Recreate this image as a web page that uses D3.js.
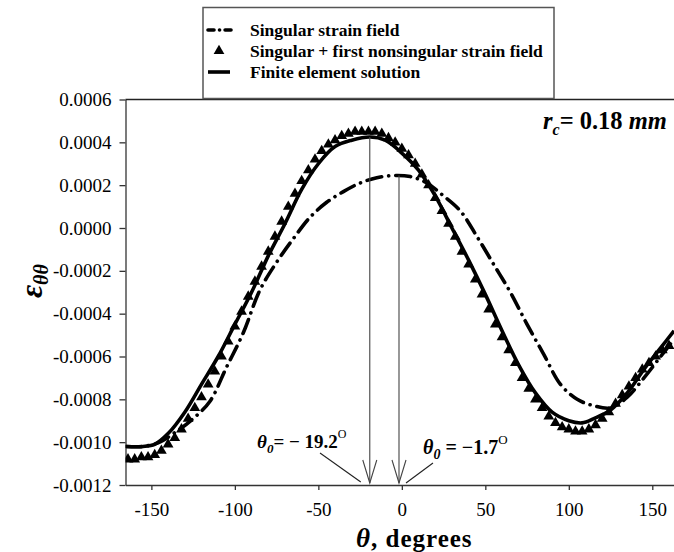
<!DOCTYPE html>
<html>
<head>
<meta charset="utf-8">
<script src="https://cdnjs.cloudflare.com/ajax/libs/d3/7.8.5/d3.min.js"></script>
<style>
  body { margin: 0; background: #fff; }
  svg { display: block; font-family: "Liberation Serif", "Times New Roman", serif; }
</style>
</head>
<body>
<svg id="chart" width="674" height="552"></svg>
<script>
const xTicks = [-150, -100, -50, 0, 50, 100, 150];
const yTicks = [0.0006, 0.0004, 0.0002, 0, -0.0002, -0.0004, -0.0006, -0.0008, -0.0010, -0.0012];

const seriesNames = [
  'Singular strain field',
  'Singular + first nonsingular strain field',
  'Finite element solution'
];

// singular strain field (dash-dot)
const singularTheta = [-165, -155, -145, -135, -125, -115, -105, -95, -85, -75, -65, -55, -45, -35, -25, -15, -5,
  5, 15, 25, 35, 45, 55, 65, 75, 85, 95, 105, 115, 125, 135, 145, 155, 163];
const singularStrain = [-0.00102, -0.00102, -0.00100, -0.00095, -0.00089, -0.00081, -0.00065, -0.00049, -0.00029,
  -0.00016, -0.00005, 0.00005, 0.00012, 0.00017, 0.00021, 0.000235, 0.000245, 0.00024, 0.00021, 0.00015, 0.00008,
  -0.00004, -0.00017, -0.00030, -0.00045, -0.00059, -0.00073, -0.00080, -0.00083, -0.00084, -0.00079, -0.00070,
  -0.00060, -0.00052];

// finite element solution (solid)
const feTheta = [-165, -155, -148, -140, -130, -120, -110, -100, -90, -80, -70, -60, -50, -40, -30, -19, -10, 0,
  10, 20, 30, 40, 50, 60, 70, 80, 90, 100, 108, 115, 125, 135, 145, 155, 163];
const feStrain = [-0.00102, -0.00102, -0.00101, -0.00096, -0.00086, -0.00073, -0.00060, -0.00045, -0.00030,
  -0.00013, 0.00002, 0.00018, 0.00030, 0.00038, 0.00041, 0.000425, 0.00041, 0.00035, 0.00027, 0.00015, 0.00000,
  -0.00015, -0.00031, -0.00048, -0.00064, -0.00077, -0.00086, -0.00090, -0.00091, -0.00089, -0.00085, -0.00077,
  -0.00066, -0.00056, -0.00048];

// singular + first nonsingular (triangles)
const nonsingTheta = [-164, -160, -156, -152, -148, -144, -140, -136, -132, -128, -124, -120, -116, -112, -108,
  -104, -100, -96, -92, -88, -84, -80, -76, -72, -68, -64, -60, -56, -52, -48, -44, -40, -36, -32, -28, -24, -20,
  -16, -12, -8, -4, 0, 4, 8, 12, 16, 20, 24, 28, 32, 36, 40, 44, 48, 52, 56, 60, 64, 68, 72, 76, 80, 84, 88, 92,
  96, 100, 104, 108, 112, 116, 120, 124, 128, 132, 136, 140, 144, 148, 152, 156, 160];
const nonsingStrain = [-0.00108, -0.00108, -0.00107, -0.00107, -0.00106, -0.00104, -0.00101, -0.00098, -0.00094,
  -0.00089, -0.00084, -0.00079, -0.00073, -0.00067, -0.00060, -0.00053, -0.00046, -0.00039, -0.00032, -0.00025,
  -0.00018, -0.00011, -0.00004, 0.00003, 0.00010, 0.00016, 0.00022, 0.00027, 0.00032, 0.00036, 0.00039, 0.00041,
  0.00043, 0.00044, 0.00045, 0.00045, 0.00045, 0.00045, 0.00044, 0.00042, 0.00040, 0.00037, 0.00034, 0.00030,
  0.00025, 0.00020, 0.00014, 0.00008, 0.00002, -0.00004, -0.00011, -0.00017, -0.00024, -0.00031, -0.00038,
  -0.00045, -0.00051, -0.00057, -0.00063, -0.00070, -0.00075, -0.00080, -0.00084, -0.00088, -0.00091, -0.00093,
  -0.00094, -0.00095, -0.00095, -0.00094, -0.00092, -0.00089, -0.00086, -0.00082, -0.00078, -0.00074, -0.00070,
  -0.00066, -0.00063, -0.00060, -0.00057, -0.00055];

// angle annotations
const peakAngles = [-19.2, -1.7];

const svg = d3.select('#chart');
const plotLeft = 125.5, plotRight = 674, plotTop = 99.5, plotBottom = 485;

const x = d3.scaleLinear().domain([-165.5, 163]).range([plotLeft, plotRight]);
const y = d3.scaleLinear().domain([-0.0012, 0.0006]).range([plotBottom, plotTop]);

const fmt = d3.formatLocale({ decimal: '.', thousands: ',', grouping: [3], currency: ['', ''], minus: '-' }).format('.4f');

svg.append('defs').append('clipPath').attr('id', 'plot-clip')
  .append('rect').attr('x', plotLeft).attr('y', plotTop - 20)
  .attr('width', plotRight - plotLeft).attr('height', plotBottom - plotTop + 20);

// axes
const yAxis = svg.append('g')
  .attr('transform', `translate(${plotLeft},0)`)
  .call(d3.axisLeft(y).tickValues(yTicks).tickFormat(fmt).tickSize(6).tickSizeOuter(0).tickPadding(8));
const xAxis = svg.append('g')
  .attr('transform', `translate(0,${plotBottom})`)
  .call(d3.axisBottom(x).tickValues(xTicks).tickSize(5).tickSizeOuter(0).tickPadding(13));
[xAxis, yAxis].forEach(a => {
  a.attr('font-family', '"Liberation Serif", serif');
  a.selectAll('text').attr('font-size', 19).attr('fill', '#000');
  a.selectAll('path, line').attr('stroke', '#333').attr('stroke-width', 1.3);
});
xAxis.selectAll('text').text(d => d < 0 ? '-' + Math.abs(d) : d);

// top frame line
svg.append('line')
  .attr('x1', plotLeft).attr('x2', plotRight).attr('y1', plotTop).attr('y2', plotTop)
  .attr('stroke', '#222').attr('stroke-width', 1.3);

const plot = svg.append('g').attr('clip-path', 'url(#plot-clip)');

const line = d3.line()
  .x(d => x(d[0]))
  .y(d => y(d[1]))
  .curve(d3.curveCatmullRom.alpha(0.5));

const singularData = d3.zip(singularTheta, singularStrain);
const feData = d3.zip(feTheta, feStrain);
const nonsingData = d3.zip(nonsingTheta, nonsingStrain);

// annotation vertical lines with open arrowheads
const peakValues = [d3.max(feStrain), d3.max(singularStrain)];
peakAngles.forEach((a, i) => {
  const px = x(a);
  const g = svg.append('g').attr('stroke', '#444').attr('stroke-width', 1.1).attr('fill', 'none');
  g.append('line').attr('x1', px).attr('x2', px).attr('y1', y(peakValues[i])).attr('y2', plotBottom - 2);
  g.append('path').attr('d', `M${px - 7},${plotBottom - 25}L${px},${plotBottom - 2}L${px + 7},${plotBottom - 25}`);
});

plot.append('path')
  .datum(feData)
  .attr('d', line)
  .attr('fill', 'none')
  .attr('stroke', '#000')
  .attr('stroke-width', 3.6);

plot.selectAll('.tri')
  .data(nonsingData)
  .enter()
  .append('path')
  .attr('class', 'tri')
  .attr('transform', d => `translate(${x(d[0])},${y(d[1])})`)
  .attr('d', d3.symbol(d3.symbolTriangle, 50))
  .attr('fill', '#000');

plot.append('path')
  .datum(singularData)
  .attr('d', line)
  .attr('fill', 'none')
  .attr('stroke', '#000')
  .attr('stroke-width', 3.6)
  .attr('stroke-linecap', 'round')
  .attr('stroke-dasharray', '15,7,0.1,7');

// leader lines for the angle labels
svg.append('line')
  .attr('x1', 320).attr('y1', 453).attr('x2', x(peakAngles[0]) - 9).attr('y2', plotBottom - 3)
  .attr('stroke', '#222').attr('stroke-width', 1.1);
svg.append('line')
  .attr('x1', 433).attr('y1', 463).attr('x2', x(peakAngles[1]) + 7).attr('y2', plotBottom - 2)
  .attr('stroke', '#222').attr('stroke-width', 1.1);

const lab1 = svg.append('text').attr('x', 257).attr('y', 448).attr('font-size', 19).attr('font-weight', 'bold');
lab1.append('tspan').attr('font-style', 'italic').text('θ');
lab1.append('tspan').attr('font-style', 'italic').attr('font-size', 13).attr('dy', 5).text('0');
lab1.append('tspan').attr('dy', -5).text('= − 19.2');
lab1.append('tspan').attr('font-weight', 'normal').attr('font-size', 12).attr('dy', -10).text('O');

const lab2 = svg.append('text').attr('x', 423).attr('y', 454).attr('font-size', 20).attr('font-weight', 'bold');
lab2.append('tspan').attr('font-style', 'italic').text('θ');
lab2.append('tspan').attr('font-style', 'italic').attr('font-size', 14).attr('dy', 5).text('0');
lab2.append('tspan').attr('dy', -5).text(' = −1.7');
lab2.append('tspan').attr('font-weight', 'normal').attr('font-size', 13).attr('dy', -10).text('O');

// r_c label
const rc = svg.append('text').attr('x', 543).attr('y', 129).attr('font-size', 24.5).attr('font-weight', 'bold');
rc.append('tspan').attr('font-style', 'italic').text('r');
rc.append('tspan').attr('font-style', 'italic').attr('font-size', 16).attr('dy', 6).text('c');
rc.append('tspan').attr('dy', -6).text('= 0.18 ');
rc.append('tspan').attr('font-style', 'italic').text('mm');

// axis titles
const xt = svg.append('text').attr('x', 356).attr('y', 547).attr('font-weight', 'bold').attr('letter-spacing', 1);
xt.append('tspan').attr('font-style', 'italic').attr('font-size', 27).text('θ');
xt.append('tspan').attr('font-size', 25).text(', degrees');

const yt = svg.append('text')
  .attr('transform', 'translate(42,298) rotate(-90)')
  .attr('font-weight', 'bold').attr('font-style', 'italic');
yt.append('tspan').attr('font-size', 32).text('ε');
yt.append('tspan').attr('font-size', 20).attr('dy', 6).text('θθ');

// legend
const legend = svg.append('g');
legend.append('rect')
  .attr('x', 203).attr('y', 7.5).attr('width', 351).attr('height', 91)
  .attr('fill', '#fff').attr('stroke', '#555').attr('stroke-width', 1.5);

const rowY = [30, 51, 72];
const leg = legend.selectAll('g.item')
  .data(seriesNames)
  .enter()
  .append('g')
  .attr('class', 'item')
  .attr('transform', (d, i) => `translate(0,${rowY[i]})`);

leg.append('text')
  .attr('x', 250).attr('y', 6)
  .attr('font-size', 17.5).attr('font-weight', 'bold')
  .text(d => d);

leg.filter((d, i) => i === 0).append('line')
  .attr('x1', 208).attr('x2', 231).attr('y1', 0).attr('y2', 0)
  .attr('stroke', '#000').attr('stroke-width', 3.6).attr('stroke-linecap', 'round')
  .attr('stroke-dasharray', '6,5.5,0.1,5.5');
leg.filter((d, i) => i === 1).append('path')
  .attr('transform', 'translate(219,0)')
  .attr('d', d3.symbol(d3.symbolTriangle, 50))
  .attr('fill', '#000');
leg.filter((d, i) => i === 2).append('line')
  .attr('x1', 208).attr('x2', 230).attr('y1', 0).attr('y2', 0)
  .attr('stroke', '#000').attr('stroke-width', 3.6);
</script>
</body>
</html>
